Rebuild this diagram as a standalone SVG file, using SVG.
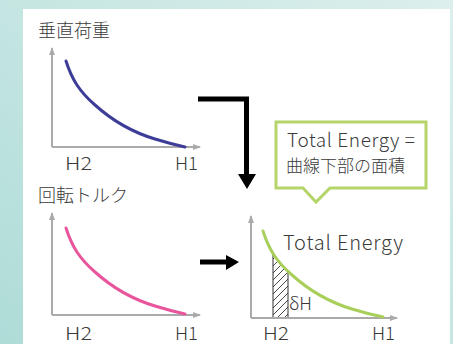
<svg xmlns="http://www.w3.org/2000/svg" width="453" height="344" viewBox="0 0 453 344">
<defs>
<linearGradient id="bg" x1="0" y1="1" x2="1" y2="0">
<stop offset="0" stop-color="#aedcd7"/>
<stop offset="1" stop-color="#dcefed"/>
</linearGradient>
<marker id="ax" viewBox="0 0 8 8" refX="7" refY="4" markerWidth="8" markerHeight="8" markerUnits="userSpaceOnUse" orient="auto">
<path d="M0,1 L8,4 L0,7 Z" fill="#aaaaaa"/>
</marker>
<pattern id="hatch" patternUnits="userSpaceOnUse" width="7" height="7">
<path d="M-1,8 L8,-1 M-1,1 L1,-1 M6,8 L8,6" stroke="#333" stroke-width="0.9"/>
</pattern>
<clipPath id="under">
<path d="M263,231 C269,250 277,262 292,275 C312,293 332,303 352,309 C365,313 373,315 383,317 L383,318 L263,318 Z"/>
</clipPath>
</defs>
<style>
.t{font-family:"Noto Sans CJK JP","Liberation Sans",sans-serif;font-weight:300;fill:#3a3a3a}
.axis{fill:none;stroke:#aaaaaa;stroke-width:2}
.curve{fill:none;stroke-width:3;stroke-linecap:round}
.big{fill:none;stroke:#000;stroke-width:5}
</style>
<rect x="0" y="0" width="453" height="344" fill="url(#bg)"/>
<rect x="23" y="9" width="427" height="335" fill="#ffffff"/>

<g id="chart-load">
<text class="t" x="38" y="37" font-size="18">垂直荷重</text>
<path class="axis" d="M52,147 L52,48" marker-end="url(#ax)"/>
<path class="axis" d="M52,147 L200,147" marker-end="url(#ax)"/>
<path class="curve" stroke="#3d3d99" d="M66,61 C72,80 80,92 95,105 C115,123 135,133 155,139 C168,143 176,145 185,147"/>
<text class="t" x="65" y="170" font-size="18" textLength="27" lengthAdjust="spacingAndGlyphs">H2</text>
<text class="t" x="175" y="170" font-size="18" textLength="23" lengthAdjust="spacingAndGlyphs">H1</text>
</g>

<g id="chart-torque">
<text class="t" x="38" y="202" font-size="18">回転トルク</text>
<path class="axis" d="M52,315 L52,213" marker-end="url(#ax)"/>
<path class="axis" d="M52,315 L200,315" marker-end="url(#ax)"/>
<path class="curve" stroke="#e8559c" d="M66,228 C72,247 80,259 95,272 C115,290 135,300 155,306 C168,310 176,312 185,314"/>
<text class="t" x="65" y="340" font-size="18" textLength="27" lengthAdjust="spacingAndGlyphs">H2</text>
<text class="t" x="175" y="340" font-size="18" textLength="23" lengthAdjust="spacingAndGlyphs">H1</text>
</g>

<g id="chart-energy">
<rect x="273" y="240" width="15" height="78" fill="url(#hatch)" stroke="#333" stroke-width="1" clip-path="url(#under)"/>
<path class="axis" d="M251,318 L251,216" marker-end="url(#ax)"/>
<path class="axis" d="M251,318 L397,318" marker-end="url(#ax)"/>
<path class="curve" stroke="#a8cf5a" d="M263,231 C269,250 277,262 292,275 C312,293 332,303 352,309 C365,313 373,315 383,317"/>
<text class="t" x="283" y="250" font-size="20" textLength="120" lengthAdjust="spacing">Total Energy</text>
<text class="t" x="289" y="310" font-size="17" textLength="23" lengthAdjust="spacingAndGlyphs">δH</text>
<text class="t" x="263" y="340" font-size="18" textLength="26" lengthAdjust="spacingAndGlyphs">H2</text>
<text class="t" x="372" y="340" font-size="18" textLength="23" lengthAdjust="spacingAndGlyphs">H1</text>
</g>

<g id="callout">
<path d="M276,122 L426,122 L426,188 L330,188 L316,202 L303,188 L276,188 Z" fill="#ffffff" stroke="#b5d56a" stroke-width="3" stroke-linejoin="miter"/>
<text class="t" x="287" y="147" font-size="19" textLength="128" lengthAdjust="spacing">Total Energy =</text>
<text class="t" x="286" y="172" font-size="17">曲線下部の面積</text>
</g>

<g id="connectors">
<path class="big" d="M198,99 L246.5,99 L246.5,176"/>
<path d="M238,174 L256,174 L247,189 Z" fill="#000"/>
<path class="big" d="M200,262 L227,262"/>
<path d="M226,255 L239,262 L226,270 Z" fill="#000"/>
</g>
</svg>
